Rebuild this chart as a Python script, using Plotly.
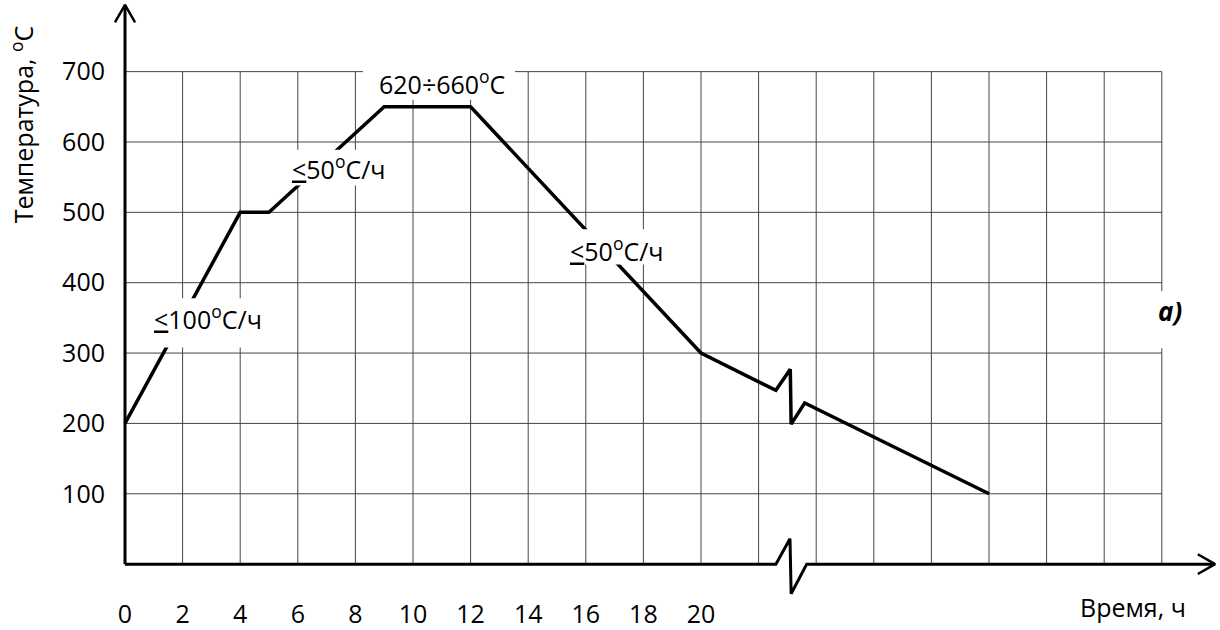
import plotly.graph_objects as go

# ---------------- data ----------------
time_h = [0, 4, 5, 9, 12, 20, 22.6, 23.1, 23.13, 23.6, 30]
temp_c = [200, 500, 500, 650, 650, 300, 247, 277, 199, 229, 100]

x_tick_vals = [0, 2, 4, 6, 8, 10, 12, 14, 16, 18, 20]
x_tick_text = ["0", "2", "4", "6", "8", "10", "12", "14", "16", "18", "20"]
y_tick_vals = [100, 200, 300, 400, 500, 600, 700]
y_tick_text = ["100", "200", "300", "400", "500", "600", "700"]

grid_x = list(range(0, 37, 2))          # vertical grid lines (hours)
grid_y = [100, 200, 300, 400, 500, 600, 700]
grid_x_max = 36
grid_y_max = 700

# x-axis with break mark, and arrows
axis_x_path_x = [0, 22.6, 23.09, 23.13, 23.67, 37.85]
axis_x_path_y = [0, 0, 36, -42, 0, 0]
y_axis_top = 795
arrow_len_h = 0.6
arrow_half_t = 14
arrow_len_t = 25
arrow_half_h = 0.35

labels = [
    dict(text="620÷660<sup>o</sup>C", x=11.02, y=684, box=(8.26, 13.54, 660, 704)),
    dict(text="<u>&lt;</u>50<sup>o</sup>C/ч", x=7.42, y=564, box=(5.56, 9.38, 538, 589)),
    dict(text="<u>&lt;</u>50<sup>o</sup>C/ч", x=17.1, y=447, box=(15.28, 18.92, 426, 476)),
    dict(text="<u>&lt;</u>100<sup>o</sup>C/ч", x=2.87, y=351, box=(0.8, 4.97, 308, 378)),
]

# ---------------- layout geometry ----------------
W, H = 1220, 630
PX_H = 28.8     # pixels per hour
PX_T = 0.713    # pixels per degree
X0_PX, Y0_PX = 125, 571.7
L, R, T, B = 110, 0, 0, 26
x_range = [(L - X0_PX) / PX_H, (W - R - X0_PX) / PX_H]
y_range = [-(H - B - Y0_PX) / PX_T, (Y0_PX - T) / PX_T]

FONT = "Open Sans"
GRID_COLOR = "#444444"

fig = go.Figure()

# grid
gx, gy = [], []
for v in grid_x[1:]:
    gx += [v, v, None]
    gy += [0, grid_y_max, None]
for v in grid_y:
    gx += [0, grid_x_max, None]
    gy += [v, v, None]
fig.add_trace(go.Scatter(x=gx, y=gy, mode="lines",
                         line=dict(color=GRID_COLOR, width=1), hoverinfo="skip"))

# axes
fig.add_trace(go.Scatter(x=axis_x_path_x, y=axis_x_path_y, mode="lines",
                         line=dict(color="black", width=3), hoverinfo="skip"))
tip_x = axis_x_path_x[-1]
fig.add_trace(go.Scatter(x=[tip_x - arrow_len_h, tip_x, tip_x - arrow_len_h],
                         y=[arrow_half_t, 0, -arrow_half_t], mode="lines",
                         line=dict(color="black", width=2.5), hoverinfo="skip"))
fig.add_trace(go.Scatter(x=[0, 0], y=[0, y_axis_top], mode="lines",
                         line=dict(color="black", width=3), hoverinfo="skip"))
fig.add_trace(go.Scatter(x=[-arrow_half_h, 0, arrow_half_h],
                         y=[y_axis_top - arrow_len_t, y_axis_top, y_axis_top - arrow_len_t],
                         mode="lines", line=dict(color="black", width=2.5), hoverinfo="skip"))

# main curve
fig.add_trace(go.Scatter(x=time_h, y=temp_c, mode="lines",
                         line=dict(color="black", width=3.5), hoverinfo="skip"))

shapes = []
annotations = []
for lb in labels:
    x0, x1, y0, y1 = lb["box"]
    shapes.append(dict(type="rect", xref="x", yref="y", x0=x0, x1=x1, y0=y0, y1=y1,
                       fillcolor="white", line=dict(width=0), layer="above"))
    annotations.append(dict(text=lb["text"], x=lb["x"], y=lb["y"], xref="x", yref="y",
                            xanchor="center", yanchor="middle",
                            showarrow=False, font=dict(family=FONT, size=25, color="black")))

# "a)" label
shapes.append(dict(type="rect", xref="x", yref="y", x0=35.59, x1=36.98, y0=307, y1=388,
                   fillcolor="white", line=dict(width=0), layer="above"))
annotations.append(dict(text="<b><i>a)</i></b>", x=36.28, y=360, xref="x", yref="y",
                        xanchor="center", yanchor="middle",
                        showarrow=False, font=dict(family=FONT, size=26, color="black")))

# axis titles
plot_w = W - L - R
plot_h = H - T - B
annotations.append(dict(text="Температура, <sup>o</sup>C", textangle=-90,
                        x=(22 - L) / plot_w, y=(H - B - 126) / plot_h,
                        xref="paper", yref="paper", xanchor="center", yanchor="middle",
                        showarrow=False, font=dict(family=FONT, size=25, color="black")))
annotations.append(dict(text="Время, ч",
                        x=(1133 - L) / plot_w, y=(H - B - 615) / plot_h,
                        xref="paper", yref="paper", xanchor="center", yanchor="middle",
                        showarrow=False, font=dict(family=FONT, size=25, color="black")))

fig.update_layout(
    width=W, height=H,
    margin=dict(l=L, r=R, t=T, b=B),
    paper_bgcolor="white", plot_bgcolor="white",
    showlegend=False, hovermode=False,
    shapes=shapes, annotations=annotations,
    font=dict(family=FONT, size=25, color="black"),
    xaxis=dict(range=x_range, tickvals=x_tick_vals, ticktext=x_tick_text,
               showgrid=False, zeroline=False, showline=False, ticks="",
               ticklabelstandoff=1,
               tickfont=dict(family=FONT, size=25, color="black")),
    yaxis=dict(range=y_range, tickvals=y_tick_vals, ticktext=y_tick_text,
               showgrid=False, zeroline=False, showline=False, ticks="",
               ticklabelstandoff=4,
               tickfont=dict(family=FONT, size=25, color="black")),
)

fig.write_html(
    "out.html",
    config={"displayModeBar": False},
    post_script="document.body.style.margin='0';document.body.style.overflow='hidden';",
)
